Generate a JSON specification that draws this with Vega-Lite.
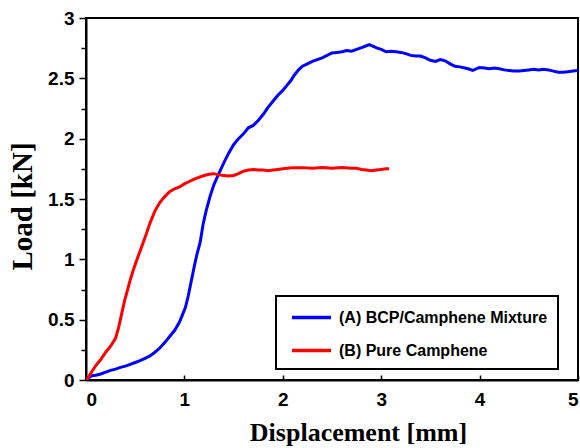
{
  "$schema": "https://vega.github.io/schema/vega-lite/v6.json",
  "width": 492,
  "height": 362,
  "autosize": "none",
  "padding": {"left": 86, "top": 18, "right": 2, "bottom": 68},
  "background": "white",
  "config": {
    "view": {"stroke": "black", "strokeWidth": 2}
  },
  "data": {"values": [
    {"x":0,"y":0,"s":"(A) BCP/Camphene Mixture"},{"x":0.03,"y":0.02,"s":"(A) BCP/Camphene Mixture"},{"x":0.06,"y":0.035,"s":"(A) BCP/Camphene Mixture"},{"x":0.1,"y":0.04,"s":"(A) BCP/Camphene Mixture"},{"x":0.15,"y":0.05,"s":"(A) BCP/Camphene Mixture"},{"x":0.2,"y":0.065,"s":"(A) BCP/Camphene Mixture"},{"x":0.25,"y":0.08,"s":"(A) BCP/Camphene Mixture"},{"x":0.3,"y":0.09,"s":"(A) BCP/Camphene Mixture"},{"x":0.35,"y":0.105,"s":"(A) BCP/Camphene Mixture"},{"x":0.4,"y":0.115,"s":"(A) BCP/Camphene Mixture"},{"x":0.45,"y":0.13,"s":"(A) BCP/Camphene Mixture"},{"x":0.5,"y":0.145,"s":"(A) BCP/Camphene Mixture"},{"x":0.55,"y":0.16,"s":"(A) BCP/Camphene Mixture"},{"x":0.6,"y":0.18,"s":"(A) BCP/Camphene Mixture"},{"x":0.65,"y":0.2,"s":"(A) BCP/Camphene Mixture"},{"x":0.7,"y":0.23,"s":"(A) BCP/Camphene Mixture"},{"x":0.75,"y":0.265,"s":"(A) BCP/Camphene Mixture"},{"x":0.8,"y":0.31,"s":"(A) BCP/Camphene Mixture"},{"x":0.85,"y":0.36,"s":"(A) BCP/Camphene Mixture"},{"x":0.9,"y":0.41,"s":"(A) BCP/Camphene Mixture"},{"x":0.95,"y":0.48,"s":"(A) BCP/Camphene Mixture"},{"x":0.98,"y":0.54,"s":"(A) BCP/Camphene Mixture"},{"x":1.01,"y":0.6,"s":"(A) BCP/Camphene Mixture"},{"x":1.04,"y":0.7,"s":"(A) BCP/Camphene Mixture"},{"x":1.07,"y":0.82,"s":"(A) BCP/Camphene Mixture"},{"x":1.1,"y":0.94,"s":"(A) BCP/Camphene Mixture"},{"x":1.13,"y":1.05,"s":"(A) BCP/Camphene Mixture"},{"x":1.16,"y":1.14,"s":"(A) BCP/Camphene Mixture"},{"x":1.19,"y":1.29,"s":"(A) BCP/Camphene Mixture"},{"x":1.22,"y":1.4,"s":"(A) BCP/Camphene Mixture"},{"x":1.26,"y":1.52,"s":"(A) BCP/Camphene Mixture"},{"x":1.3,"y":1.62,"s":"(A) BCP/Camphene Mixture"},{"x":1.35,"y":1.71,"s":"(A) BCP/Camphene Mixture"},{"x":1.4,"y":1.8,"s":"(A) BCP/Camphene Mixture"},{"x":1.45,"y":1.88,"s":"(A) BCP/Camphene Mixture"},{"x":1.5,"y":1.95,"s":"(A) BCP/Camphene Mixture"},{"x":1.55,"y":2.0,"s":"(A) BCP/Camphene Mixture"},{"x":1.6,"y":2.04,"s":"(A) BCP/Camphene Mixture"},{"x":1.65,"y":2.09,"s":"(A) BCP/Camphene Mixture"},{"x":1.7,"y":2.11,"s":"(A) BCP/Camphene Mixture"},{"x":1.75,"y":2.15,"s":"(A) BCP/Camphene Mixture"},{"x":1.8,"y":2.2,"s":"(A) BCP/Camphene Mixture"},{"x":1.85,"y":2.26,"s":"(A) BCP/Camphene Mixture"},{"x":1.9,"y":2.31,"s":"(A) BCP/Camphene Mixture"},{"x":1.95,"y":2.36,"s":"(A) BCP/Camphene Mixture"},{"x":2.0,"y":2.4,"s":"(A) BCP/Camphene Mixture"},{"x":2.05,"y":2.45,"s":"(A) BCP/Camphene Mixture"},{"x":2.08,"y":2.48,"s":"(A) BCP/Camphene Mixture"},{"x":2.12,"y":2.53,"s":"(A) BCP/Camphene Mixture"},{"x":2.16,"y":2.57,"s":"(A) BCP/Camphene Mixture"},{"x":2.2,"y":2.6,"s":"(A) BCP/Camphene Mixture"},{"x":2.25,"y":2.62,"s":"(A) BCP/Camphene Mixture"},{"x":2.3,"y":2.64,"s":"(A) BCP/Camphene Mixture"},{"x":2.35,"y":2.655,"s":"(A) BCP/Camphene Mixture"},{"x":2.4,"y":2.67,"s":"(A) BCP/Camphene Mixture"},{"x":2.45,"y":2.69,"s":"(A) BCP/Camphene Mixture"},{"x":2.5,"y":2.71,"s":"(A) BCP/Camphene Mixture"},{"x":2.55,"y":2.715,"s":"(A) BCP/Camphene Mixture"},{"x":2.6,"y":2.72,"s":"(A) BCP/Camphene Mixture"},{"x":2.65,"y":2.73,"s":"(A) BCP/Camphene Mixture"},{"x":2.7,"y":2.725,"s":"(A) BCP/Camphene Mixture"},{"x":2.75,"y":2.74,"s":"(A) BCP/Camphene Mixture"},{"x":2.8,"y":2.755,"s":"(A) BCP/Camphene Mixture"},{"x":2.85,"y":2.77,"s":"(A) BCP/Camphene Mixture"},{"x":2.88,"y":2.78,"s":"(A) BCP/Camphene Mixture"},{"x":2.92,"y":2.765,"s":"(A) BCP/Camphene Mixture"},{"x":2.96,"y":2.75,"s":"(A) BCP/Camphene Mixture"},{"x":3.0,"y":2.74,"s":"(A) BCP/Camphene Mixture"},{"x":3.05,"y":2.72,"s":"(A) BCP/Camphene Mixture"},{"x":3.1,"y":2.725,"s":"(A) BCP/Camphene Mixture"},{"x":3.15,"y":2.72,"s":"(A) BCP/Camphene Mixture"},{"x":3.2,"y":2.715,"s":"(A) BCP/Camphene Mixture"},{"x":3.25,"y":2.705,"s":"(A) BCP/Camphene Mixture"},{"x":3.3,"y":2.69,"s":"(A) BCP/Camphene Mixture"},{"x":3.35,"y":2.685,"s":"(A) BCP/Camphene Mixture"},{"x":3.4,"y":2.685,"s":"(A) BCP/Camphene Mixture"},{"x":3.45,"y":2.67,"s":"(A) BCP/Camphene Mixture"},{"x":3.5,"y":2.65,"s":"(A) BCP/Camphene Mixture"},{"x":3.55,"y":2.64,"s":"(A) BCP/Camphene Mixture"},{"x":3.6,"y":2.655,"s":"(A) BCP/Camphene Mixture"},{"x":3.65,"y":2.645,"s":"(A) BCP/Camphene Mixture"},{"x":3.7,"y":2.62,"s":"(A) BCP/Camphene Mixture"},{"x":3.75,"y":2.6,"s":"(A) BCP/Camphene Mixture"},{"x":3.8,"y":2.595,"s":"(A) BCP/Camphene Mixture"},{"x":3.85,"y":2.585,"s":"(A) BCP/Camphene Mixture"},{"x":3.9,"y":2.575,"s":"(A) BCP/Camphene Mixture"},{"x":3.93,"y":2.565,"s":"(A) BCP/Camphene Mixture"},{"x":3.97,"y":2.58,"s":"(A) BCP/Camphene Mixture"},{"x":4.0,"y":2.59,"s":"(A) BCP/Camphene Mixture"},{"x":4.05,"y":2.585,"s":"(A) BCP/Camphene Mixture"},{"x":4.1,"y":2.58,"s":"(A) BCP/Camphene Mixture"},{"x":4.15,"y":2.585,"s":"(A) BCP/Camphene Mixture"},{"x":4.2,"y":2.58,"s":"(A) BCP/Camphene Mixture"},{"x":4.25,"y":2.57,"s":"(A) BCP/Camphene Mixture"},{"x":4.3,"y":2.565,"s":"(A) BCP/Camphene Mixture"},{"x":4.35,"y":2.56,"s":"(A) BCP/Camphene Mixture"},{"x":4.4,"y":2.56,"s":"(A) BCP/Camphene Mixture"},{"x":4.45,"y":2.565,"s":"(A) BCP/Camphene Mixture"},{"x":4.5,"y":2.57,"s":"(A) BCP/Camphene Mixture"},{"x":4.55,"y":2.575,"s":"(A) BCP/Camphene Mixture"},{"x":4.6,"y":2.57,"s":"(A) BCP/Camphene Mixture"},{"x":4.65,"y":2.575,"s":"(A) BCP/Camphene Mixture"},{"x":4.7,"y":2.57,"s":"(A) BCP/Camphene Mixture"},{"x":4.75,"y":2.56,"s":"(A) BCP/Camphene Mixture"},{"x":4.8,"y":2.55,"s":"(A) BCP/Camphene Mixture"},{"x":4.85,"y":2.55,"s":"(A) BCP/Camphene Mixture"},{"x":4.9,"y":2.555,"s":"(A) BCP/Camphene Mixture"},{"x":4.95,"y":2.56,"s":"(A) BCP/Camphene Mixture"},{"x":5.0,"y":2.565,"s":"(A) BCP/Camphene Mixture"},
    {"x":0,"y":0,"s":"(B) Pure Camphene"},{"x":0.03,"y":0.03,"s":"(B) Pure Camphene"},{"x":0.06,"y":0.07,"s":"(B) Pure Camphene"},{"x":0.1,"y":0.12,"s":"(B) Pure Camphene"},{"x":0.15,"y":0.17,"s":"(B) Pure Camphene"},{"x":0.2,"y":0.23,"s":"(B) Pure Camphene"},{"x":0.25,"y":0.28,"s":"(B) Pure Camphene"},{"x":0.3,"y":0.345,"s":"(B) Pure Camphene"},{"x":0.33,"y":0.43,"s":"(B) Pure Camphene"},{"x":0.36,"y":0.54,"s":"(B) Pure Camphene"},{"x":0.39,"y":0.65,"s":"(B) Pure Camphene"},{"x":0.42,"y":0.74,"s":"(B) Pure Camphene"},{"x":0.45,"y":0.83,"s":"(B) Pure Camphene"},{"x":0.48,"y":0.91,"s":"(B) Pure Camphene"},{"x":0.51,"y":0.98,"s":"(B) Pure Camphene"},{"x":0.55,"y":1.07,"s":"(B) Pure Camphene"},{"x":0.6,"y":1.18,"s":"(B) Pure Camphene"},{"x":0.65,"y":1.3,"s":"(B) Pure Camphene"},{"x":0.7,"y":1.4,"s":"(B) Pure Camphene"},{"x":0.75,"y":1.47,"s":"(B) Pure Camphene"},{"x":0.8,"y":1.52,"s":"(B) Pure Camphene"},{"x":0.85,"y":1.56,"s":"(B) Pure Camphene"},{"x":0.9,"y":1.585,"s":"(B) Pure Camphene"},{"x":0.95,"y":1.6,"s":"(B) Pure Camphene"},{"x":1.0,"y":1.625,"s":"(B) Pure Camphene"},{"x":1.05,"y":1.645,"s":"(B) Pure Camphene"},{"x":1.1,"y":1.665,"s":"(B) Pure Camphene"},{"x":1.15,"y":1.68,"s":"(B) Pure Camphene"},{"x":1.2,"y":1.695,"s":"(B) Pure Camphene"},{"x":1.25,"y":1.705,"s":"(B) Pure Camphene"},{"x":1.3,"y":1.71,"s":"(B) Pure Camphene"},{"x":1.35,"y":1.7,"s":"(B) Pure Camphene"},{"x":1.4,"y":1.695,"s":"(B) Pure Camphene"},{"x":1.45,"y":1.69,"s":"(B) Pure Camphene"},{"x":1.5,"y":1.695,"s":"(B) Pure Camphene"},{"x":1.55,"y":1.71,"s":"(B) Pure Camphene"},{"x":1.6,"y":1.73,"s":"(B) Pure Camphene"},{"x":1.65,"y":1.74,"s":"(B) Pure Camphene"},{"x":1.7,"y":1.745,"s":"(B) Pure Camphene"},{"x":1.75,"y":1.74,"s":"(B) Pure Camphene"},{"x":1.8,"y":1.74,"s":"(B) Pure Camphene"},{"x":1.85,"y":1.735,"s":"(B) Pure Camphene"},{"x":1.9,"y":1.74,"s":"(B) Pure Camphene"},{"x":1.95,"y":1.745,"s":"(B) Pure Camphene"},{"x":2.0,"y":1.75,"s":"(B) Pure Camphene"},{"x":2.05,"y":1.755,"s":"(B) Pure Camphene"},{"x":2.1,"y":1.76,"s":"(B) Pure Camphene"},{"x":2.2,"y":1.76,"s":"(B) Pure Camphene"},{"x":2.3,"y":1.755,"s":"(B) Pure Camphene"},{"x":2.4,"y":1.76,"s":"(B) Pure Camphene"},{"x":2.5,"y":1.755,"s":"(B) Pure Camphene"},{"x":2.6,"y":1.76,"s":"(B) Pure Camphene"},{"x":2.7,"y":1.755,"s":"(B) Pure Camphene"},{"x":2.75,"y":1.755,"s":"(B) Pure Camphene"},{"x":2.8,"y":1.745,"s":"(B) Pure Camphene"},{"x":2.85,"y":1.74,"s":"(B) Pure Camphene"},{"x":2.9,"y":1.735,"s":"(B) Pure Camphene"},{"x":2.95,"y":1.74,"s":"(B) Pure Camphene"},{"x":3.0,"y":1.745,"s":"(B) Pure Camphene"},{"x":3.05,"y":1.75,"s":"(B) Pure Camphene"},{"x":3.08,"y":1.75,"s":"(B) Pure Camphene"}
  ]},
  "mark": {"type": "line", "strokeWidth": 3, "clip": true},
  "encoding": {
    "x": {"field": "x", "type": "quantitative", "scale": {"domain": [0, 5], "nice": false},
      "axis": {"title": "Displacement [mm]", "values": [0, 1, 2, 3, 4, 5], "format": "d", "grid": false,
        "domainColor": "black", "domainWidth": 2, "tickColor": "black", "tickWidth": 1.5, "tickSize": -5, "labelPadding": 15,
        "labelFont": "Liberation Sans", "labelFontWeight": "bold", "labelFontSize": 19, "labelColor": "black",
        "titleFont": "Liberation Serif", "titleFontWeight": "bold", "titleFontSize": 26, "titleColor": "black",
        "titleX": 272, "titleY": 60, "titleBaseline": "alphabetic", "titleAlign": "center"}},
    "y": {"field": "y", "type": "quantitative", "scale": {"domain": [0, 3], "nice": false},
      "axis": {"title": "Load [kN]", "values": [0, 0.25, 0.5, 0.75, 1, 1.25, 1.5, 1.75, 2, 2.25, 2.5, 2.75, 3], "grid": false,
        "labelExpr": "abs(datum.value*2 - round(datum.value*2)) < 0.01 ? toString(datum.value) : ''",
        "domainColor": "black", "domainWidth": 2, "tickColor": "black", "tickWidth": 1.5,
        "tickSize": {"condition": {"test": "abs(datum.value*2 - round(datum.value*2)) > 0.01", "value": 5}, "value": 7},
        "labelFont": "Liberation Sans", "labelFontWeight": "bold", "labelFontSize": 19, "labelColor": "black",
        "titleFont": "Liberation Serif", "titleFontWeight": "bold", "titleFontSize": 29, "titleColor": "black",
        "labelPadding": 5, "titleX": -64, "titleY": 188, "titleAngle": -90, "titleAlign": "center", "titleBaseline": "middle"}},
    "color": {"field": "s", "type": "nominal",
      "scale": {"domain": ["(A) BCP/Camphene Mixture", "(B) Pure Camphene"], "range": ["#0000ff", "#ff0000"]},
      "legend": {"title": null, "orient": "none", "legendX": 190, "legendY": 278, "symbolType": "M-0.58,0H3.53", "symbolSize": 361,
        "symbolStrokeWidth": 3.5, "labelFont": "Liberation Sans", "labelFontWeight": "bold", "labelFontSize": 16, "labelColor": "black",
        "labelLimit": 400, "labelOffset": 30, "padding": 10, "rowPadding": 13, "strokeColor": "black", "fillColor": "white",
        "encode": {"legend": {"update": {"strokeWidth": {"value": 2}}},
          "symbols": {"enter": {"stroke": {"signal": "datum.label === '(A) BCP/Camphene Mixture' ? '#2e2e9e' : '#e8141c'"}},
            "update": {"stroke": {"signal": "datum.label === '(A) BCP/Camphene Mixture' ? '#2e2e9e' : '#e8141c'"}, "fill": {"value": "transparent"}}}}}}
  }
}
